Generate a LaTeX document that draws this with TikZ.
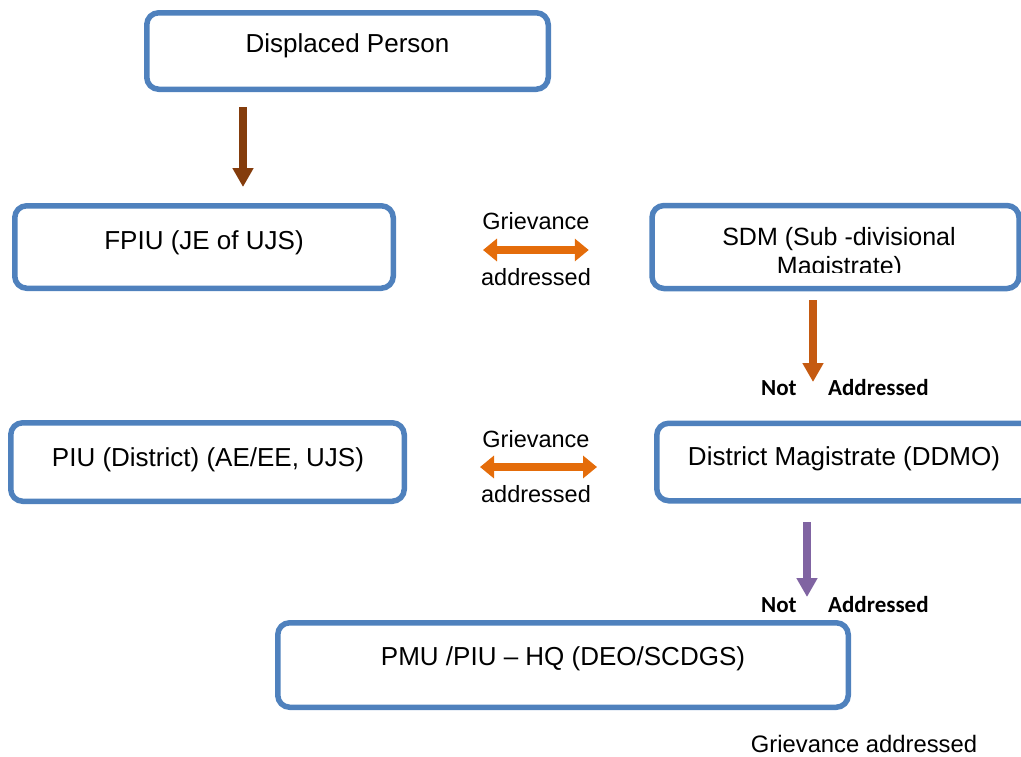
\documentclass[tikz,border=0pt]{standalone}
\usepackage{fontspec}
\setmainfont{Liberation Sans}
\newfontfamily\notfont{Carlito}
\usetikzlibrary{arrows.meta}
\definecolor{boxblue}{HTML}{4F81BD}
\definecolor{arrbrown}{HTML}{843C0C}
\definecolor{arrorange}{HTML}{E46C0A}
\definecolor{arrrust}{HTML}{C55A11}
\definecolor{arrpurple}{HTML}{8064A2}
\tikzset{
  stage/.style={draw=boxblue,line width=5.5pt,rounded corners=12pt,inner sep=0pt,outer sep=0pt},
  stagetxt/.style={anchor=base,font=\fontsize{26}{30}\selectfont},
  side/.style={anchor=base,font=\fontsize{23.5}{28}\selectfont},
  notlbl/.style={anchor=base west,inner sep=0pt,font=\notfont\bfseries\fontsize{23}{26}\selectfont},
  downarr/.style={line width=7.5pt,-{Triangle[width=20pt,length=19pt]}},
  botharr/.style={arrorange,line width=8pt,{Triangle[width=22pt,length=14pt]}-{Triangle[width=22pt,length=14pt]}}
}
\begin{document}
\begin{tikzpicture}[x=1pt,y=-1pt]
	\useasboundingbox (0,0) rectangle (1021,756);
	\clip (0,0) rectangle (1021,756);
	% boxes
	\node[stage,minimum width=401.5pt,minimum height=76.5pt] (dp) at (347.5,51) {};
	\node[stage,minimum width=378.5pt,minimum height=82.5pt] (fpiu) at (204,247) {};
	\node[stage,minimum width=367pt,minimum height=83pt] (sdm) at (835.5,247) {};
	\node[stage,minimum width=393.5pt,minimum height=78.5pt] (piu) at (207.5,462) {};
	\node[stage,minimum width=383.5pt,minimum height=77.5pt] (dm) at (848.5,462) {};
	\node[stage,minimum width=570.5pt,minimum height=84.5pt] (pmu) at (563,665) {};
	% box texts
	\node[stagetxt] (dp-t) at (347.5,52.3) {Displaced Person};
	\node[stagetxt] (fpiu-t) at (204,249.3) {FPIU (JE of UJS)};
	\node[stagetxt,font=\fontsize{25}{30}\selectfont] (sdm-t) at (839,245) {SDM (Sub -divisional};
	\begin{scope}
		\clip (640,250) rectangle (1021,272);
		\node[stagetxt,font=\fontsize{25}{30}\selectfont] (sdm-u) at (839.5,274) {Magistrate)};
	\end{scope}
	\node[stagetxt] (piu-t) at (208,466.3) {PIU (District) (AE/EE, UJS)};
	\node[stagetxt] (dm-t) at (844,465.3) {District Magistrate (DDMO)};
	\node[stagetxt] (pmu-t) at (563,665.3) {PMU /PIU -- HQ (DEO/SCDGS)};
	% side labels
	\node[side] (g1) at (536,229.4) {Grievance};
	\node[side] (a1) at (536,285.4) {addressed};
	\node[side] (g2) at (536,447.4) {Grievance};
	\node[side] (a2) at (536,502.4) {addressed};
	\node[notlbl] (n1) at (761,395) {Not};
	\node[notlbl] (na1) at (828,395) {Addressed};
	\node[notlbl] (n2) at (761,612) {Not};
	\node[notlbl] (na2) at (828,612) {Addressed};
	\node[side,inner sep=0pt,font=\fontsize{23.8}{28}\selectfont] (ga) at (864,752) {Grievance addressed};
	% arrows
	\coordinate (x1) at (243,0);
	\coordinate (x2) at (813,0);
	\coordinate (x3) at (807,0);
	\draw[downarr,arrbrown,shorten <=17.75pt,shorten >=18.75pt] (dp.south -| x1) -- (fpiu.north -| x1);
	\draw[botharr,shorten <=89.75pt,shorten >=63.25pt] ([yshift=-3pt]fpiu.east) -- ([yshift=-3pt]sdm.west);
	\draw[downarr,arrrust,shorten <=11.5pt,shorten >=41.25pt] (sdm.south -| x2) -- (dm.north -| x2);
	\draw[botharr,shorten <=75.75pt,shorten >=59.75pt] ([yshift=-5pt]piu.east) -- ([yshift=-5pt]dm.west);
	\draw[downarr,arrpurple,shorten <=21.25pt,shorten >=25.75pt] (dm.south -| x3) -- (pmu.north -| x3);
\end{tikzpicture}
\end{document}
